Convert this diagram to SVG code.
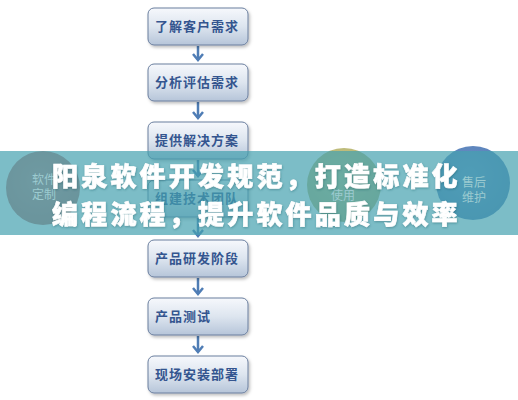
<svg xmlns="http://www.w3.org/2000/svg" width="518" height="400" viewBox="0 0 518 400">
<style>
.box{fill:url(#boxg);stroke:#6a7e9e;stroke-width:1;filter:url(#sh)}
.bt{font-family:"Noto Sans CJK SC","Noto Sans",sans-serif;font-weight:bold;font-size:13px;letter-spacing:1px;fill:#34558f}
.ct{font-family:"Noto Sans CJK SC",sans-serif;font-size:12px;fill:#9ccbd0}
.title{font-family:"Noto Sans CJK SC",sans-serif;font-weight:900;font-size:26px;letter-spacing:3.2px;fill:#ffffff;stroke:#ffffff;stroke-width:0.6;filter:url(#tsh)}
.arr{stroke:#4f7db5;stroke-width:2.5;fill:none;marker-end:url(#ah)}
</style>
<defs>
<linearGradient id="boxg" x1="0" y1="0" x2="0" y2="1">
<stop offset="0" stop-color="#f6f8fc"/>
<stop offset="0.5" stop-color="#dde5ef"/>
<stop offset="1" stop-color="#b6c5d9"/>
</linearGradient>
<radialGradient id="cr" cx="0.45" cy="0.4" r="0.6">
<stop offset="0" stop-color="#d48a84"/>
<stop offset="1" stop-color="#c37770"/>
</radialGradient>
<radialGradient id="cg" cx="0.45" cy="0.4" r="0.6">
<stop offset="0" stop-color="#c8c684"/>
<stop offset="1" stop-color="#b8b574"/>
</radialGradient>
<radialGradient id="cb" cx="0.45" cy="0.4" r="0.6">
<stop offset="0" stop-color="#6b92c8"/>
<stop offset="1" stop-color="#5880b8"/>
</radialGradient>
<filter id="sh" x="-10%" y="-20%" width="125%" height="150%">
<feDropShadow dx="1.5" dy="2" stdDeviation="1.5" flood-color="#000" flood-opacity="0.25"/>
</filter>
<filter id="tsh" x="-5%" y="-20%" width="110%" height="150%">
<feDropShadow dx="0.5" dy="1" stdDeviation="1" flood-color="#1f4f58" flood-opacity="0.4"/>
</filter>
<marker id="ah" viewBox="0 0 10 12" refX="8" refY="6" markerWidth="10" markerHeight="12" markerUnits="userSpaceOnUse" orient="auto">
<polyline points="2,1 8,6 2,11" fill="none" stroke="#4f7db5" stroke-width="2.5"/>
</marker>
</defs>
<rect width="518" height="400" fill="#ffffff"/>
<g id="circles">
<circle cx="43" cy="188" r="37" fill="url(#cr)"/>
<circle cx="344" cy="185" r="37" fill="url(#cg)"/>
<circle cx="473" cy="183" r="37" fill="url(#cb)"/>
</g>
<g id="connectors">
<line class="arr" x1="198" y1="46" x2="198" y2="60"/>
<line class="arr" x1="198" y1="102" x2="198" y2="118"/>
<line class="arr" x1="198" y1="160" x2="198" y2="176"/>
<line class="arr" x1="198" y1="218" x2="198" y2="236"/>
<line class="arr" x1="198" y1="278" x2="198" y2="294"/>
<line class="arr" x1="198" y1="336" x2="198" y2="352"/>
</g>
<g id="n1"><rect class="box" x="148" y="8" width="100" height="37" rx="6"/><text class="bt" x="155" y="31">了解客户需求</text></g>
<g id="n2"><rect class="box" x="148" y="64" width="100" height="37" rx="6"/><text class="bt" x="155" y="87">分析评估需求</text></g>
<g id="n3"><rect class="box" x="148" y="122" width="100" height="37" rx="6"/><text class="bt" x="155" y="145">提供解决方案</text></g>
<g id="n4"><rect class="box" x="148" y="180" width="100" height="37" rx="6"/><text class="bt" x="155" y="203">组建技术团队</text></g>
<g id="n5"><rect class="box" x="148" y="240" width="100" height="37" rx="6"/><text class="bt" x="155" y="263">产品研发阶段</text></g>
<g id="n6"><rect class="box" x="148" y="298" width="100" height="37" rx="6"/><text class="bt" x="155" y="321">产品测试</text></g>
<g id="n7"><rect class="box" x="148" y="356" width="100" height="37" rx="6"/><text class="bt" x="155" y="379">现场安装部署</text></g>
<rect id="band" x="0" y="151" width="518" height="84" fill="#45a1af" fill-opacity="0.7"/>
<g id="circle-labels">
<text class="ct" x="32" y="184">软件</text>
<text class="ct" x="32" y="199">定制</text>
<text class="ct" x="331" y="200">使用</text>
<text class="ct" x="462" y="187">售后</text>
<text class="ct" x="462" y="202">维护</text>
</g>
<g id="title">
<text class="title" x="52" y="186">阳泉软件开发规范，打造标准化</text>
<text class="title" x="52" y="224">编程流程，提升软件品质与效率</text>
</g>
</svg>
